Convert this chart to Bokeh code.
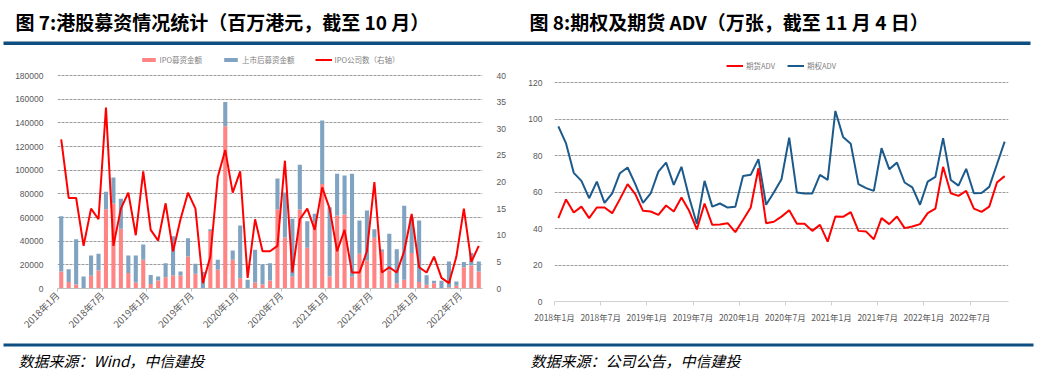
import math
from bokeh.plotting import figure
from bokeh.models import (Range1d, LinearAxis, FixedTicker, Label, BoxAnnotation,
                          Legend, LegendItem, ColumnDataSource, NumeralTickFormatter)
from bokeh.layouts import column, row
from bokeh.embed import file_html
from bokeh.resources import INLINE

# ---------------- data: figure 7 (HK equity fundraising, 2018-01 .. 2022-09) -------------
tick_labels = ["2018年1月", "2018年7月", "2019年1月", "2019年7月", "2020年1月",
               "2020年7月", "2021年1月", "2021年7月", "2022年1月", "2022年7月"]

ipo_amount = [14400, 5400, 3400, 0, 10700, 15200, 67000, 71800, 50400, 13000,
              5100, 24200, 3900, 6800, 9600, 11000, 11000, 27000, 12400, 0,
              48500, 15800, 137200, 24200, 8700, 0, 5100, 3400, 6800, 66800,
              43100, 10000, 66800, 34400, 56000, 88400, 10100, 61700, 62500, 10000,
              29300, 23700, 42800, 31000, 15200, 4500, 7300, 29900, 5400, 3100,
              4500, 0, 1100, 2300, 18000, 19400, 14400]

post_amount = [46600, 10900, 38300, 10100, 17200, 14100, 14700, 22000, 25400, 14900,
               22800, 13000, 7600, 3300, 11800, 33200, 3400, 15500, 8600, 14000,
               1500, 8400, 20500, 7900, 44500, 7400, 27600, 16900, 14600, 26200,
               38000, 48900, 37700, 22500, 7100, 53600, 58600, 35200, 33000, 86900,
               28200, 42200, 7300, 2000, 31000, 28700, 62600, 30100, 52100, 8200,
               2000, 6500, 21700, 3600, 4500, 10500, 8400]

ipo_count = [28, 17, 17, 8, 15, 13, 34, 8, 15, 18,
             10, 22, 11, 9, 16, 7, 13, 18, 15, 1,
             6, 21, 26, 18, 22, 2, 13, 7, 7, 8,
             24, 3, 13, 15, 11, 19, 15, 7, 11, 3,
             3, 7, 20, 3, 4, 3, 7, 14, 4, 3,
             6, 2, 1, 6, 15, 5, 8]

# ---------------- data: figure 8 (options & futures ADV, 2018-01 .. 2022-11) -------------
futures_adv = [45.7, 55.9, 48.8, 52.0, 45.7, 51.5, 51.5, 48.4, 56.1, 64.3,
               58.8, 49.7, 49.3, 47.5, 52.6, 49.3, 57.0, 49.7, 39.5, 53.7,
               42.0, 42.2, 42.9, 38.0, 44.7, 51.5, 73.0, 42.9, 43.7, 46.5,
               50.0, 42.6, 42.6, 38.7, 42.0, 32.8, 46.6, 46.4, 49.0, 38.7,
               38.3, 34.1, 45.7, 42.4, 46.6, 40.2, 41.1, 42.4, 48.4, 50.9,
               73.8, 59.3, 57.9, 60.6, 50.9, 49.1, 52.0, 65.2, 68.7]

options_adv = [96.0, 86.6, 70.5, 66.1, 56.6, 65.7, 54.0, 59.3, 70.3, 73.4,
               64.3, 54.0, 59.2, 71.2, 76.1, 63.9, 73.8, 57.0, 42.5, 66.1,
               52.0, 53.7, 51.5, 51.9, 68.8, 69.4, 78.0, 53.0, 59.7, 67.0,
               89.8, 59.7, 59.2, 59.2, 69.4, 66.6, 104.4, 90.2, 86.4, 64.3,
               62.1, 60.6, 84.0, 72.5, 76.1, 65.2, 62.5, 53.0, 65.7, 68.3,
               89.5, 66.6, 63.5, 72.7, 59.3, 59.5, 62.8, 75.2, 87.6]

title_left = "图 7:港股募资情况统计（百万港元，截至 10 月）"
title_right = "图 8:期权及期货 ADV（万张，截至 11 月 4 日）"
source_left = "数据来源：Wind，中信建投"
source_right = "数据来源：公司公告，中信建投"

# ---------------- styles ----------------
PINK = "#FF8585"
STEEL = "#7FA3C0"
RED = "#FF0000"
NAVY = "#1B5A8A"
RULE = "#0E4E80"
GRID = "#9C9C9C"
LABEL = "#595959"
FONT = "Liberation Sans"
CJK = "Noto Sans CJK SC"
tick_pos = [6 * k for k in range(len(tick_labels))]
TOTAL_W = 1040
TOP_B = 7   # both frames start at the same height (the row aligns frame tops)


def style_common(p):
    p.outline_line_color = None
    p.background_fill_color = "white"
    p.border_fill_color = "white"
    p.xgrid.visible = False


# ---------------- left chart ----------------
n1 = len(ipo_amount)
src1 = ColumnDataSource(dict(x=[i + 0.5 for i in range(n1)], ipo=ipo_amount,
                             post=post_amount, cnt=ipo_count))
p1 = figure(title=None, frame_width=425, frame_height=236, min_border_left=57,
            min_border_right=38, min_border_top=TOP_B, min_border_bottom=47,
            x_range=Range1d(0, n1), y_range=Range1d(0, 199437),
            output_backend="svg", toolbar_location=None)
style_common(p1)
p1.extra_y_ranges = {"right": Range1d(0, 44.32)}
bars = p1.vbar_stack(["ipo", "post"], x="x", width=0.55, color=[PINK, STEEL],
                     line_color=None, source=src1)
ln1 = p1.line(x="x", y="cnt", y_range_name="right", source=src1, line_color=RED,
              line_width=2)

p1.yaxis.ticker = FixedTicker(ticks=list(range(0, 180001, 20000)))
p1.yaxis.formatter = NumeralTickFormatter(format="0")
p1.ygrid.ticker = FixedTicker(ticks=list(range(20000, 180001, 20000)))
p1.ygrid.grid_line_color = GRID
p1.ygrid.grid_line_dash = "3 1"
ax_r = LinearAxis(y_range_name="right", ticker=FixedTicker(ticks=list(range(0, 41, 5))))
p1.add_layout(ax_r, "right")
for ax in (p1.yaxis[0], ax_r):
    ax.axis_line_color = None
    ax.major_tick_line_color = None
    ax.minor_tick_line_color = None
    ax.major_label_text_font = FONT
    ax.major_label_text_font_size = "8.5px"
    ax.major_label_text_color = LABEL
    ax.major_label_standoff = 8

xa = p1.xaxis[0]
xa.ticker = FixedTicker(ticks=tick_pos)
xa.major_label_overrides = {t: s for t, s in zip(tick_pos, tick_labels)}
xa.major_label_orientation = math.pi / 4
xa.axis_line_color = "#BFBFBF"
xa.major_tick_line_color = "#BFBFBF"
xa.major_tick_out = 3
xa.major_tick_in = 0
xa.minor_tick_line_color = None
xa.major_label_standoff = 2
xa.major_label_text_font = CJK
xa.major_label_text_font_size = "9.5px"
xa.major_label_text_color = LABEL

leg1 = Legend(items=[LegendItem(label="IPO募资金额", renderers=[bars[0]]),
                     LegendItem(label="上市后募资金额", renderers=[bars[1]]),
                     LegendItem(label="IPO公司数（右轴）", renderers=[ln1])],
              location="top_center", orientation="horizontal")
p1.add_layout(leg1, "center")

# ---------------- right chart ----------------
n2 = len(futures_adv)
src2 = ColumnDataSource(dict(x=[i + 0.5 for i in range(n2)], fut=futures_adv,
                             opt=options_adv))
p2 = figure(title=None, frame_width=454, frame_height=249, min_border_left=34,
            min_border_right=TOTAL_W - 520 - 34 - 454, min_border_top=TOP_B,
            min_border_bottom=34, x_range=Range1d(0, n2),
            y_range=Range1d(0, 120 * 249 / 219.0),
            output_backend="svg", toolbar_location=None)
style_common(p2)
l_opt = p2.line(x="x", y="opt", source=src2, line_color=NAVY, line_width=2)
l_fut = p2.line(x="x", y="fut", source=src2, line_color=RED, line_width=2)
p2.yaxis.ticker = FixedTicker(ticks=list(range(0, 121, 20)))
p2.ygrid.ticker = FixedTicker(ticks=list(range(20, 121, 20)))
p2.ygrid.grid_line_color = GRID
p2.ygrid.grid_line_dash = "3 1"
ya = p2.yaxis[0]
ya.axis_line_color = None
ya.major_tick_line_color = None
ya.minor_tick_line_color = None
ya.major_label_text_font = FONT
ya.major_label_text_font_size = "8.5px"
ya.major_label_text_color = LABEL
ya.major_label_standoff = 6
xb = p2.xaxis[0]
xb.ticker = FixedTicker(ticks=tick_pos)
xb.major_label_overrides = {t: s for t, s in zip(tick_pos, tick_labels)}
xb.axis_line_color = "#D0D0D0"
xb.major_tick_line_color = "#D0D0D0"
xb.major_tick_out = 4
xb.major_tick_in = 0
xb.minor_tick_line_color = None
xb.major_label_text_font = CJK
xb.major_label_text_font_size = "8.5px"
xb.major_label_text_color = LABEL

leg2 = Legend(items=[LegendItem(label="期货ADV", renderers=[l_fut]),
                     LegendItem(label="期权ADV", renderers=[l_opt])],
              location="top_center", orientation="horizontal")
p2.add_layout(leg2, "center")

for lg in (leg1, leg2):
    lg.background_fill_alpha = 0
    lg.border_line_color = None
    lg.label_text_font = CJK
    lg.label_text_font_size = "7.5px"
    lg.label_text_color = "#7F7F7F"
    lg.glyph_width = 17
    lg.glyph_height = 5
    lg.label_height = 8
    lg.margin = 2
    lg.padding = 2
    lg.label_standoff = 3
leg1.spacing = 20
leg2.spacing = 12
leg2.margin = 8

# ---------------- header / footer strips ----------------
def strip(h):
    s = figure(title=None, width=TOTAL_W, height=h, x_range=Range1d(0, TOTAL_W),
               y_range=Range1d(0, h), min_border=0, x_axis_location=None,
               y_axis_location=None, output_backend="svg", toolbar_location=None)
    s.outline_line_color = None
    s.grid.visible = False
    s.background_fill_color = "white"
    s.border_fill_color = "white"
    return s

top = strip(45)
for xx, txt in ((15, title_left), (529, title_right)):
    top.add_layout(Label(x=xx, y=24, text=txt, text_font=CJK, text_font_size="19px",
                         text_font_style="bold", text_baseline="middle", text_color="black"))
top.add_layout(BoxAnnotation(left=3, right=1030, bottom=0.5, top=4, fill_color=RULE,
                             fill_alpha=1, line_color=None))

bottom = strip(40)
bottom.add_layout(BoxAnnotation(left=3, right=1033, bottom=32, top=35, fill_color=RULE,
                                fill_alpha=1, line_color=None))
for xx, txt in ((18, source_left), (530, source_right)):
    bottom.add_layout(Label(x=xx, y=18, text=txt, text_font=CJK, text_font_size="15px",
                            text_font_style="italic", text_baseline="middle",
                            text_color="black"))

layout = column(top, row(p1, p2), bottom)
open("out.html", "w").write(file_html(layout, INLINE))
